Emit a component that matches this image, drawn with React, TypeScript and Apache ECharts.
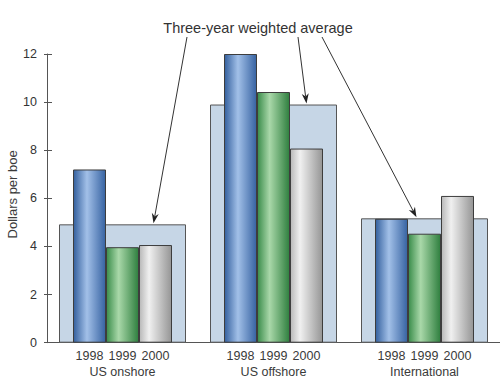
import React, { useEffect, useRef } from "react";
import * as echarts from "echarts";

const categories = ["US onshore", "US offshore", "International"];
const years = ["1998", "1999", "2000"];
const values1998 = [7.2, 12.0, 5.15];
const values1999 = [3.97, 10.42, 4.53];
const values2000 = [4.06, 8.07, 6.1];
const weightedAverage = [4.92, 9.9, 5.17];
const yTicks = { min: 0, max: 12, interval: 2 };
const titleText = "Three-year weighted average";
const yName = "Dollars per boe";

const FONT = "Liberation Sans, Arial, Helvetica, sans-serif";

function cyl(dark1: string, light: string, dark2: string, pos = 0.4) {
  return new echarts.graphic.LinearGradient(0, 0, 1, 0, [
    { offset: 0, color: dark1 },
    { offset: pos, color: light },
    { offset: 1, color: dark2 },
  ]);
}

export default function App() {
  const ref = useRef<HTMLDivElement>(null);
  useEffect(() => {
    if (!ref.current) return;
    const chart = echarts.init(ref.current, undefined, { renderer: "svg" });
    const fills = [
      cyl("#34609e", "#a2c0e8", "#3763a2", 0.42),
      cyl("#3a8c4a", "#a9d8a9", "#2f7f3f", 0.38),
      cyl("#b8b8b8", "#f0f0f0", "#959595", 0.3),
    ];
    const yearData = [values1998, values1999, values2000];
    const yearSeries = years.map((y, i) => ({
      type: "bar",
      name: y,
      xAxisIndex: 0,
      yAxisIndex: 0,
      data: yearData[i],
      barWidth: 33,
      barGap: "0%",
      z: 3,
      itemStyle: { color: fills[i], borderColor: "#3d3d3d", borderWidth: 1 },
      label: {
        show: true,
        position: "bottom",
        distance: 7,
        formatter: () => y,
        fontFamily: FONT,
        fontSize: 12.5,
        color: "#3a3a3a",
      },
    }));
    chart.setOption({
      animation: false,
      title: {
        text: titleText,
        left: 253,
        top: 15,
        textAlign: "center",
        textStyle: { fontFamily: FONT, fontSize: 14.5, fontWeight: "normal", color: "#333" },
      },
      grid: {
        left: 47,
        right: 0,
        top: 54,
        bottom: 46.3,
        containLabel: false,
        outerBoundsMode: "none",
      },
      xAxis: [
        {
          type: "category",
          data: categories,
          axisLine: { show: true, lineStyle: { color: "#555", width: 1 } },
          axisTick: { show: false },
          axisLabel: { margin: 23, fontFamily: FONT, fontSize: 12.5, color: "#3a3a3a" },
        },
        {
          type: "category",
          data: categories,
          show: false,
          position: "bottom",
        },
      ],
      yAxis: [
        {
          type: "value",
          min: yTicks.min,
          max: yTicks.max,
          interval: yTicks.interval,
          axisLine: { show: true, lineStyle: { color: "#555", width: 1 } },
          axisTick: { show: true, inside: false, length: 3, lineStyle: { color: "#555" } },
          axisLabel: { margin: 10, fontFamily: FONT, fontSize: 12.5, color: "#333" },
          splitLine: { show: false },
        },
        {
          type: "value",
          min: yTicks.min,
          max: yTicks.max,
          interval: yTicks.interval,
          position: "left",
          axisLine: { show: false },
          axisTick: { show: true, inside: true, length: 5, lineStyle: { color: "#555" } },
          axisLabel: { show: false },
          splitLine: { show: false },
        },
      ],
      series: [
        {
          type: "bar",
          name: "avg",
          xAxisIndex: 1,
          yAxisIndex: 0,
          data: weightedAverage,
          barWidth: 127,
          z: 2,
          itemStyle: { color: "#c6d6e6", borderColor: "#555", borderWidth: 1 },
        },
        ...yearSeries,
      ],
    });

    const graphics: any[] = [];
    // Y-axis title, centred on the value axis
    const yTop = chart.convertToPixel({ yAxisIndex: 0 }, yTicks.max) as number;
    const yBottom = chart.convertToPixel({ yAxisIndex: 0 }, yTicks.min) as number;
    graphics.push({
      type: "text",
      x: 12,
      y: (yTop + yBottom) / 2 - 4,
      rotation: Math.PI / 2,
      style: {
        text: yName,
        align: "center",
        verticalAlign: "middle",
        fontFamily: FONT,
        fontSize: 13,
        fill: "#3a3a3a",
      },
      z: 10,
    });

    // Annotation arrows from the title to each weighted-average box
    const starts = [
      [187, 37],
      [298, 37],
      [322, 37],
    ];
    const xOffsets = [31, 33, -8];
    categories.forEach((c, i) => {
      const p = chart.convertToPixel({ xAxisIndex: 0, yAxisIndex: 0 }, [i, weightedAverage[i]]) as number[];
      const tip = [p[0] + xOffsets[i], p[1] - 1];
      const s = starts[i];
      const dx = tip[0] - s[0];
      const dy = tip[1] - s[1];
      const len = Math.sqrt(dx * dx + dy * dy);
      const ux = dx / len;
      const uy = dy / len;
      const hl = 10;
      const hw = 3.5;
      const notch = 3;
      const bx = tip[0] - ux * hl;
      const by = tip[1] - uy * hl;
      const nx = tip[0] - ux * (hl - notch);
      const ny = tip[1] - uy * (hl - notch);
      graphics.push({
        type: "line",
        shape: { x1: s[0], y1: s[1], x2: nx, y2: ny },
        style: { stroke: "#333", lineWidth: 1 },
        z: 10,
      });
      graphics.push({
        type: "polygon",
        shape: {
          points: [
            tip,
            [bx - uy * hw, by + ux * hw],
            [nx, ny],
            [bx + uy * hw, by - ux * hw],
          ],
        },
        style: { fill: "#222" },
        z: 10,
      });
    });
    chart.setOption({ graphic: graphics });
    return () => chart.dispose();
  }, []);
  return (
    <div
      ref={ref}
      style={{ position: "fixed", left: 0, top: 0, width: 500, height: 389, background: "#fff" }}
    />
  );
}
